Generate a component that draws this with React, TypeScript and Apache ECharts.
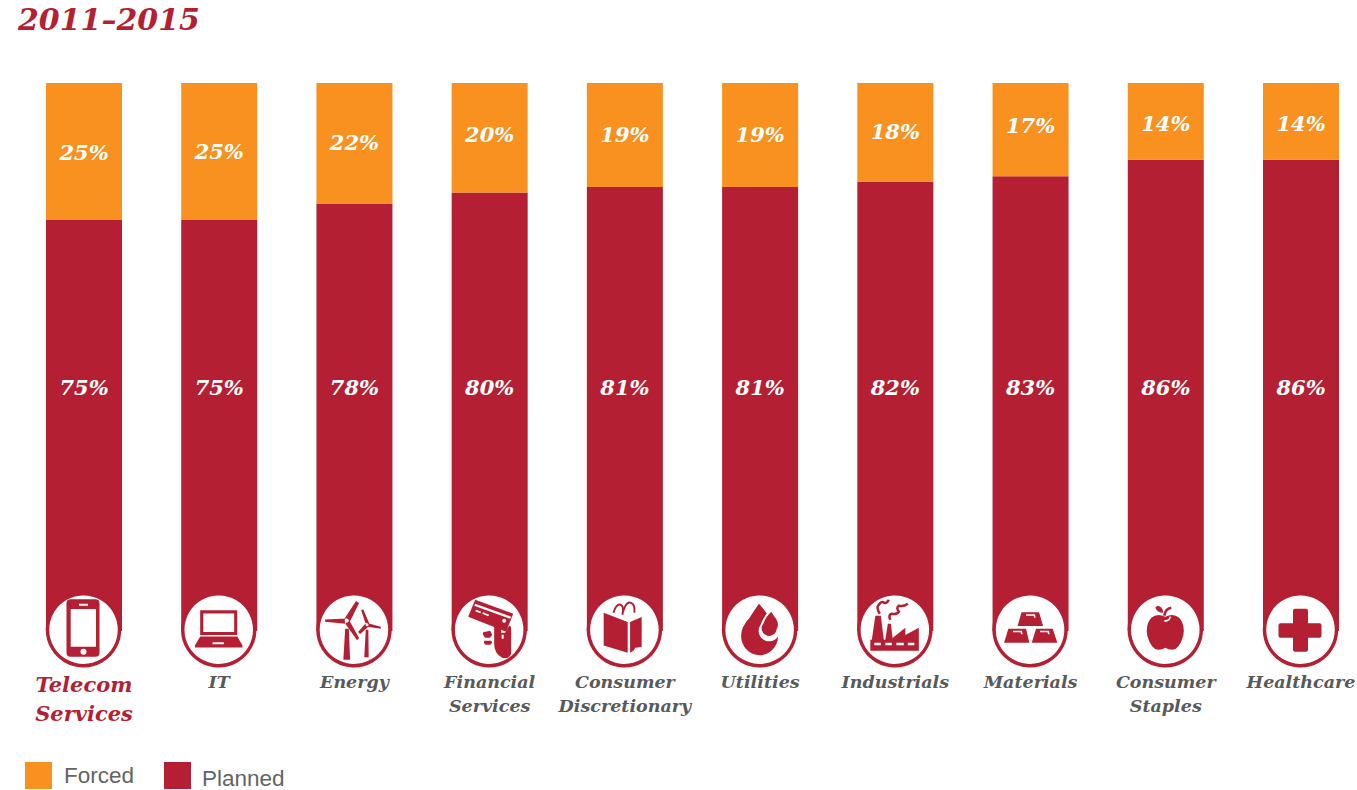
import React, { useEffect, useRef } from "react";
import * as echarts from "echarts";

const categories = [
  "Telecom\nServices",
  "IT",
  "Energy",
  "Financial\nServices",
  "Consumer\nDiscretionary",
  "Utilities",
  "Industrials",
  "Materials",
  "Consumer\nStaples",
  "Healthcare",
];
const forced = [25, 25, 22, 20, 19, 19, 18, 17, 14, 14];
const planned = [75, 75, 78, 80, 81, 81, 82, 83, 86, 86];
const chartTitle = "2011–2015";

// Vertical fine-tuning of the labels in the orange segments.
const forcedLabelShift = [1, 0, -1, -3, -1, -1, -1, -4, 2, 2];

const RED = "#b51f33";
const ORANGE = "#f8911f";
const GREY = "#58595b";
const LEGEND_GREY = "#636466";
const WHITE = "#ffffff";
const SERIF = "'DejaVu Serif', serif";
const SANS = "'Liberation Sans', sans-serif";

type Layer = { d: string; fill?: string; stroke?: string; lineWidth?: number };

// Sector pictograms, drawn around (0,0) inside a badge of radius 36.
const iconLayers: Layer[][] = [
  // phone
  [
    { d: "M-13,-30.5 H12 Q16,-30.5 16,-26.5 V23 Q16,27 12,27 H-13 Q-17,27 -17,23 V-26.5 Q-17,-30.5 -13,-30.5 Z", fill: RED },
    { d: "M-12.8,-20.7 H12.5 V17 H-12.8 Z M-4.5,-26 H4.5 V-24 H-4.5 Z", fill: WHITE },
    { d: "M-3,22 A3,3 0 1 0 3,22 A3,3 0 1 0 -3,22 Z", fill: WHITE },
  ],
  // laptop
  [
    { d: "M-18,-20 H18 V4 H-18 Z M-18,5.5 H18 L23,14 V16 H-23 V14 Z", fill: RED },
    { d: "M-15,-17 H15 V1 H-15 Z M-6,11 H5 V13 H-6 Z", fill: WHITE },
  ],
  // wind turbines
  [
    {
      d: "M-9,-12 L2,-29 L5,-27 L-4,-9 Z M-7,-12 L-28,-11 L-28,-9 L-8,-7 Z M-9,-8 L-5,-11 L5,7 L3,9 Z M-8.5,-2 H-5 L-3.7,28 H-10.3 Z M11,-8 L7,-20 L9,-21 L15,-7 Z M12,-8 L26,-4 L26,-2 L13,-4 Z M11,-7 L14,-4 L6,3 L4,1 Z M11.5,-1 H14 L14.3,25.7 H10 Z",
      fill: RED,
    },
    { d: "M-9,-10 A2,2 0 1 0 -5,-10 A2,2 0 1 0 -9,-10 Z M11.2,-6 A1.5,1.5 0 1 0 14.2,-6 A1.5,1.5 0 1 0 11.2,-6 Z", fill: WHITE },
  ],
  // payment card in a hand
  [
    { d: "M-14,-30 L24,-16 L17,2 L-21,-13 Z", fill: RED },
    { d: "M-14,-26 L22,-13 L21,-11 L-15,-24 Z M-13,-20 L-8,-18 L-9,-16.5 L-14,-18.5 Z M-6,-17.5 L0,-15 L-1,-13.5 L-7,-16 Z M13,-9 A2,2 0 1 0 17,-9 A2,2 0 1 0 13,-9 Z", fill: WHITE },
    { d: "M5,-3 Q10,-5 12,-2 L12,3 L16,3 L18,-1 L20,-4 Q22,-4 22,-1 L22,24 Q20,30 13,28 Q5,24 5,14 Z", fill: RED },
    { d: "M12.5,5 H14.5 V9 H12.5 Z", fill: WHITE },
    { d: "M-6,2.5 L1,1 L3,5 L1,8 L-4,8 Q-7,5 -6,2.5 Z M-5,11 H2 L3,13 L1,15 H-3 Q-6,14 -5,11 Z", fill: RED },
  ],
  // shopping book with handles
  [
    { d: "M-20.7,-17 L3.3,-7.7 V23 L-20.7,15.7 Z M5.7,-7.7 L17.3,-12.7 V17.3 L11,18 L9,21 L5.7,23 Z", fill: RED },
    { d: "M-11,-17 Q-8,-26 -4,-25 Q0,-24 -2,-15", stroke: RED, lineWidth: 2 },
    { d: "M-1,-19 Q2,-28 6,-27 Q11,-26 10,-17", stroke: RED, lineWidth: 2 },
  ],
  // drops
  [
    { d: "M-0.7,-26 Q5,-20 10,-12 Q18.5,-3 18.5,6 A18.5,19.5 0 1 1 -18.5,6 Q-18.5,-3 -10,-12 Q-5,-20 -0.7,-26 Z", fill: RED },
    { d: "M11.7,-21 Q14,-16 18,-12 Q23,-4 20,2 A10.5,10.5 0 1 1 1,-5 Q4,-14 11.7,-21 Z", fill: WHITE },
    { d: "M11.7,-18 Q14,-14 16.5,-11 Q20,-5 17,-0.5 A7.5,7.5 0 1 1 3.7,-6 Q6,-13 11.7,-18 Z", fill: RED },
  ],
  // factory with smoke
  [
    { d: "M-24.5,10 H24 V21 H-24.5 Z M-19.5,-14 H-14 L-11,10 H-23 Z M-7,-6 H-4 L-2,10 H-9.5 Z M-2,10 V8 L10.5,-2 V5.3 L24,-2 V10 Z", fill: RED },
    { d: "M-20.5,13 H-14 V15.5 H-20.5 Z M-9.5,13 H-3 V15.5 H-9.5 Z M1.5,13 H9 V15.5 H1.5 Z M13,13 H19.5 V15.5 H13 Z", fill: WHITE },
    { d: "M-15,-16 Q-19,-22 -16,-25 Q-13,-29 -11,-27 Q-8,-26 -6,-30", stroke: RED, lineWidth: 2.5 },
    { d: "M-4.5,-10 Q-7,-15 -3,-16 Q2,-15 4,-18 Q1,-22 4,-24 Q9,-23 13,-26", stroke: RED, lineWidth: 2.5 },
  ],
  // gold bars
  [
    { d: "M-8.5,-17.5 H9 L13,-3.7 H-12.5 Z M-21.7,-1 H-4 L-0.7,13 H-26 Z M6,-1 H22.7 L27.3,13 H1.7 Z", fill: RED },
    { d: "M-4,-15.5 H5 L5.5,-12 L4,-12 L3.6,-14 H-4 Z M-17,1 H-8 L-7.5,4.5 L-9,4.5 L-9.5,2.5 H-17 Z M10,1 H19 L19.5,4.5 L18,4.5 L17.5,2.5 H10 Z", fill: WHITE },
  ],
  // apple
  [
    { d: "M0,-13 Q8,-17 14,-12 Q20,-5 18,6 Q14,20 7,20 Q3,20 0,18 Q-3,20 -7,20 Q-14,20 -18,6 Q-20,-5 -14,-12 Q-8,-17 0,-13 Z", fill: RED },
    { d: "M-8,-24 Q-3,-24 -2,-17 Q-8,-17 -10,-22 Z", fill: RED },
    { d: "M-1,-14 Q0,-21 6,-22", stroke: RED, lineWidth: 2.5 },
    { d: "M-1,-9 Q4,-8 5,-13", stroke: WHITE, lineWidth: 1.6 },
  ],
  // medical cross
  [
    { d: "M-7.5,-19 Q-7.5,-21 -5.5,-21 H5.5 Q7.5,-21 7.5,-19 V-6.5 H19 Q21,-6.5 21,-4.5 V6 Q21,8 19,8 H7.5 V20 Q7.5,22 5.5,22 H-5.5 Q-7.5,22 -7.5,20 V8 H-20 Q-22,8 -22,6 V-4.5 Q-22,-6.5 -20,-6.5 H-7.5 Z", fill: RED },
  ],
];

// Laptop and turbines are a touch larger and lower than their layer coordinates.
const iconScale = [1, 1.03, 1.03, 1, 1, 1, 1, 1, 1, 1];
const iconDrop = [0, 1.2, 1.2, 0, 0, 0, 0, 0, 0, 0];

iconLayers.forEach((layers, i) =>
  layers.forEach((layer, j) =>
    echarts.graphic.registerShape(`sector${i}x${j}`, echarts.graphic.extendPath(layer.d, {}) as any)
  )
);

export default function App() {
  const ref = useRef<HTMLDivElement>(null);

  useEffect(() => {
    const chart = echarts.init(ref.current!, undefined, { renderer: "svg" });
    const valueLabel = { color: WHITE, fontFamily: SERIF, fontStyle: "italic" as const, fontWeight: "bold" as const, fontSize: 21 };
    const legendText = { color: LEGEND_GREY, fontFamily: SANS, fontSize: 22.5 };
    chart.setOption({
      animation: false,
      title: {
        text: chartTitle,
        left: 18,
        top: 4,
        padding: 0,
        textStyle: { color: RED, fontFamily: SERIF, fontStyle: "italic", fontWeight: "bold", fontSize: 30 },
      },
      legend: [
        {
          data: ["Forced"],
          left: 25,
          top: 762,
          padding: 0,
          itemWidth: 27,
          itemHeight: 27,
          icon: "rect",
          selectedMode: false,
          textStyle: { ...legendText, padding: [0, 0, 0, 7] },
        },
        {
          data: ["Planned"],
          left: 164,
          top: 762,
          padding: 0,
          itemWidth: 27,
          itemHeight: 27,
          icon: "rect",
          selectedMode: false,
          formatter: "{low|{name}}",
          textStyle: {
            ...legendText,
            rich: { low: { ...legendText, padding: [5, 0, 0, 6] } },
          },
        },
      ],
      grid: { left: 84, right: 56, top: 83, bottom: 159, outerBoundsMode: "none" },
      xAxis: {
        type: "category",
        boundaryGap: false,
        data: categories,
        axisLine: { show: false },
        axisTick: { show: false },
        axisLabel: {
          interval: 0,
          margin: 39,
          verticalAlign: "top",
          formatter: (v: string) => (v === categories[0] ? `{hi|${v}}` : `{std|${v}}`),
          rich: {
            hi: { color: RED, fontFamily: SERIF, fontStyle: "italic", fontWeight: "bold", fontSize: 21, lineHeight: 29 },
            std: { color: GREY, fontFamily: SERIF, fontStyle: "italic", fontWeight: "bold", fontSize: 17.5, lineHeight: 24 },
          },
        },
      },
      yAxis: { type: "value", min: 0, max: 100, show: false },
      series: [
        {
          name: "Planned",
          type: "bar",
          stack: "share",
          barWidth: 76,
          data: planned,
          itemStyle: { color: RED },
          label: {
            show: true,
            position: "insideBottom",
            distance: 233,
            formatter: (p: any) => `${p.value}%`,
            ...valueLabel,
          },
        },
        {
          name: "Forced",
          type: "bar",
          stack: "share",
          barWidth: 76,
          data: forced.map((value, i) => ({ value, label: { offset: [0, forcedLabelShift[i]] } })),
          itemStyle: { color: ORANGE },
          label: {
            show: true,
            position: "inside",
            formatter: (p: any) => `${p.value}%`,
            ...valueLabel,
          },
        },
        {
          // White badges that sit on the foot of each bar.
          type: "custom",
          data: categories.map((_, i) => [i, 0]),
          encode: { x: 0, y: 1 },
          silent: true,
          z: 5,
          renderItem: (_: any, api: any) => {
            const i = api.value(0);
            const [x, y] = api.coord([i, api.value(1)]);
            return {
              type: "group",
              x: x - 0.5,
              y: y - 1.3,
              children: [
                { type: "circle", shape: { cx: 0, cy: 0, r: 36 }, style: { fill: WHITE, stroke: RED, lineWidth: 3.5 } },
                ...iconLayers[i].map((layer, j) => ({
                  type: `sector${i}x${j}`,
                  y: iconDrop[i],
                  scaleX: iconScale[i],
                  scaleY: iconScale[i],
                  style: {
                    fill: layer.fill ?? "none",
                    stroke: layer.stroke ?? "none",
                    lineWidth: layer.lineWidth ?? 0,
                  },
                })),
              ],
            };
          },
        },
      ],
    });
    return () => chart.dispose();
  }, []);

  return <div ref={ref} style={{ position: "absolute", left: 0, top: 0, width: 1357, height: 790 }} />;
}
